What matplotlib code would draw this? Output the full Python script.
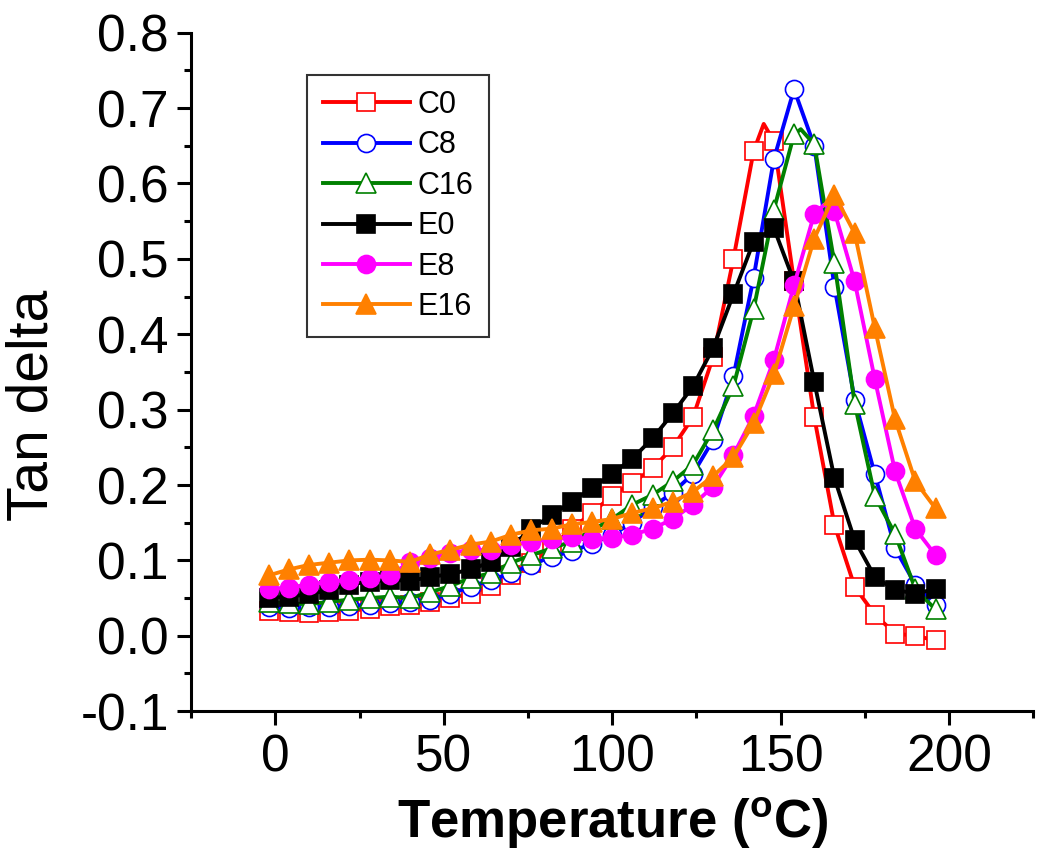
import numpy as np
import matplotlib
matplotlib.use("Agg")
import matplotlib.pyplot as plt
from matplotlib.ticker import MultipleLocator

plt.rcParams['font.family'] = ['Liberation Sans', 'DejaVu Sans']

# temperature at the marker positions (degC)
temp = [-2, 4, 10, 16, 22, 28, 34, 40, 46, 52, 58, 64, 70, 76, 82, 88, 94,
        100, 106, 112, 118, 124, 130, 136, 142, 148, 154, 160, 166, 172, 178,
        184, 190, 196]

c0 = [0.033, 0.032, 0.030, 0.031, 0.033, 0.036, 0.039, 0.041, 0.045, 0.050,
      0.056, 0.066, 0.080, 0.097, 0.118, 0.142, 0.163, 0.186, 0.203, 0.222,
      0.250, 0.290, 0.370, 0.500, 0.643, 0.656, 0.470, 0.290, 0.147, 0.065,
      0.028, 0.003, 0.000, -0.006]
c8 = [0.038, 0.037, 0.038, 0.038, 0.040, 0.041, 0.043, 0.045, 0.048, 0.056,
      0.065, 0.074, 0.083, 0.094, 0.105, 0.112, 0.122, 0.134, 0.150, 0.171,
      0.190, 0.215, 0.260, 0.344, 0.475, 0.632, 0.725, 0.650, 0.463, 0.313,
      0.214, 0.116, 0.068, 0.041]
c16 = [0.045, 0.043, 0.042, 0.045, 0.048, 0.050, 0.052, 0.050, 0.058, 0.066,
       0.077, 0.083, 0.097, 0.107, 0.116, 0.125, 0.140, 0.155, 0.174, 0.187,
       0.205, 0.227, 0.273, 0.331, 0.433, 0.565, 0.665, 0.652, 0.494, 0.308,
       0.185, 0.135, 0.062, 0.035]
e0 = [0.050, 0.052, 0.055, 0.061, 0.068, 0.072, 0.074, 0.073, 0.078, 0.082,
      0.088, 0.098, 0.118, 0.142, 0.160, 0.178, 0.196, 0.215, 0.235, 0.262,
      0.295, 0.331, 0.382, 0.453, 0.523, 0.541, 0.470, 0.337, 0.209, 0.127,
      0.078, 0.061, 0.056, 0.062]
e8 = [0.062, 0.064, 0.068, 0.072, 0.074, 0.077, 0.080, 0.098, 0.103, 0.110,
      0.114, 0.114, 0.120, 0.125, 0.128, 0.131, 0.128, 0.130, 0.134, 0.142,
      0.155, 0.174, 0.198, 0.240, 0.292, 0.366, 0.465, 0.560, 0.563, 0.470,
      0.340, 0.218, 0.142, 0.107]
e16 = [0.080, 0.088, 0.094, 0.097, 0.100, 0.101, 0.100, 0.098, 0.108, 0.114,
       0.121, 0.125, 0.134, 0.140, 0.142, 0.148, 0.151, 0.155, 0.163, 0.169,
       0.178, 0.191, 0.212, 0.237, 0.282, 0.347, 0.437, 0.527, 0.585, 0.534,
       0.408, 0.287, 0.205, 0.169]

# top of each peak between two markers (line only, no marker)
peaks = {"C0": (145, 0.679), "C16": (156, 0.672), "E8": (163, 0.572)}

labels = ["C0", "C8", "C16", "E0", "E8", "E16"]
series = [c0, c8, c16, e0, e8, e16]
colors = ["#ff0000", "#0000ff", "#008000", "#000000", "#ff00ff", "#ff8000"]
markers = ["s", "o", "^", "s", "o", "^"]
filled = [False, False, False, True, True, True]

fig = plt.figure(figsize=(10.5, 8.61), dpi=100)
ax = fig.add_axes([0.182, 0.174, 0.802, 0.788])

for lab, vals, col, mk, fill in zip(labels, series, colors, markers, filled):
    t = np.array(temp, dtype=float)
    v = np.array(vals, dtype=float)
    mark_idx = list(range(len(t)))
    if lab in peaks:
        pt, pv = peaks[lab]
        pos = int(np.searchsorted(t, pt))
        t = np.insert(t, pos, pt)
        v = np.insert(v, pos, pv)
        mark_idx = [i if i < pos else i + 1 for i in mark_idx]
    ms = 14 if mk == "^" else 13
    ax.plot(t, v, color=col, lw=2.8, marker=mk, markevery=mark_idx,
            markersize=ms, markerfacecolor=col if fill else "white",
            markeredgecolor=col, markeredgewidth=1.2, label=lab)

ax.set_xlim(-25, 225)
ax.set_ylim(-0.1, 0.8)
ax.xaxis.set_major_locator(MultipleLocator(50))
ax.xaxis.set_minor_locator(MultipleLocator(25))
ax.yaxis.set_major_locator(MultipleLocator(0.1))
ax.yaxis.set_minor_locator(MultipleLocator(0.05))
ax.yaxis.set_major_formatter(plt.FormatStrFormatter("%.1f"))

for side in ["top", "right"]:
    ax.spines[side].set_visible(False)
for side in ["left", "bottom"]:
    ax.spines[side].set_linewidth(2.2)

ax.tick_params(which="major", direction="out", length=10, width=2.2,
               labelsize=37, pad=6)
ax.tick_params(which="minor", direction="out", length=5, width=2.2)

ax.set_xlabel(r"Temperature ($^{\mathregular{o}}$C)", fontsize=38,
              fontweight="bold", labelpad=9)
ax.set_ylabel("Tan delta", fontsize=41)
ax.yaxis.set_label_coords(-0.156, 0.451)

leg = ax.legend(loc="upper left", bbox_to_anchor=(0.138, 0.938), fontsize=22,
                frameon=True, fancybox=False, edgecolor="black",
                handlelength=2.85, labelspacing=0.34, borderpad=0.5,
                handletextpad=0.26, borderaxespad=0)
leg.get_frame().set_linewidth(1.5)

fig.savefig("out.png", dpi=100)
